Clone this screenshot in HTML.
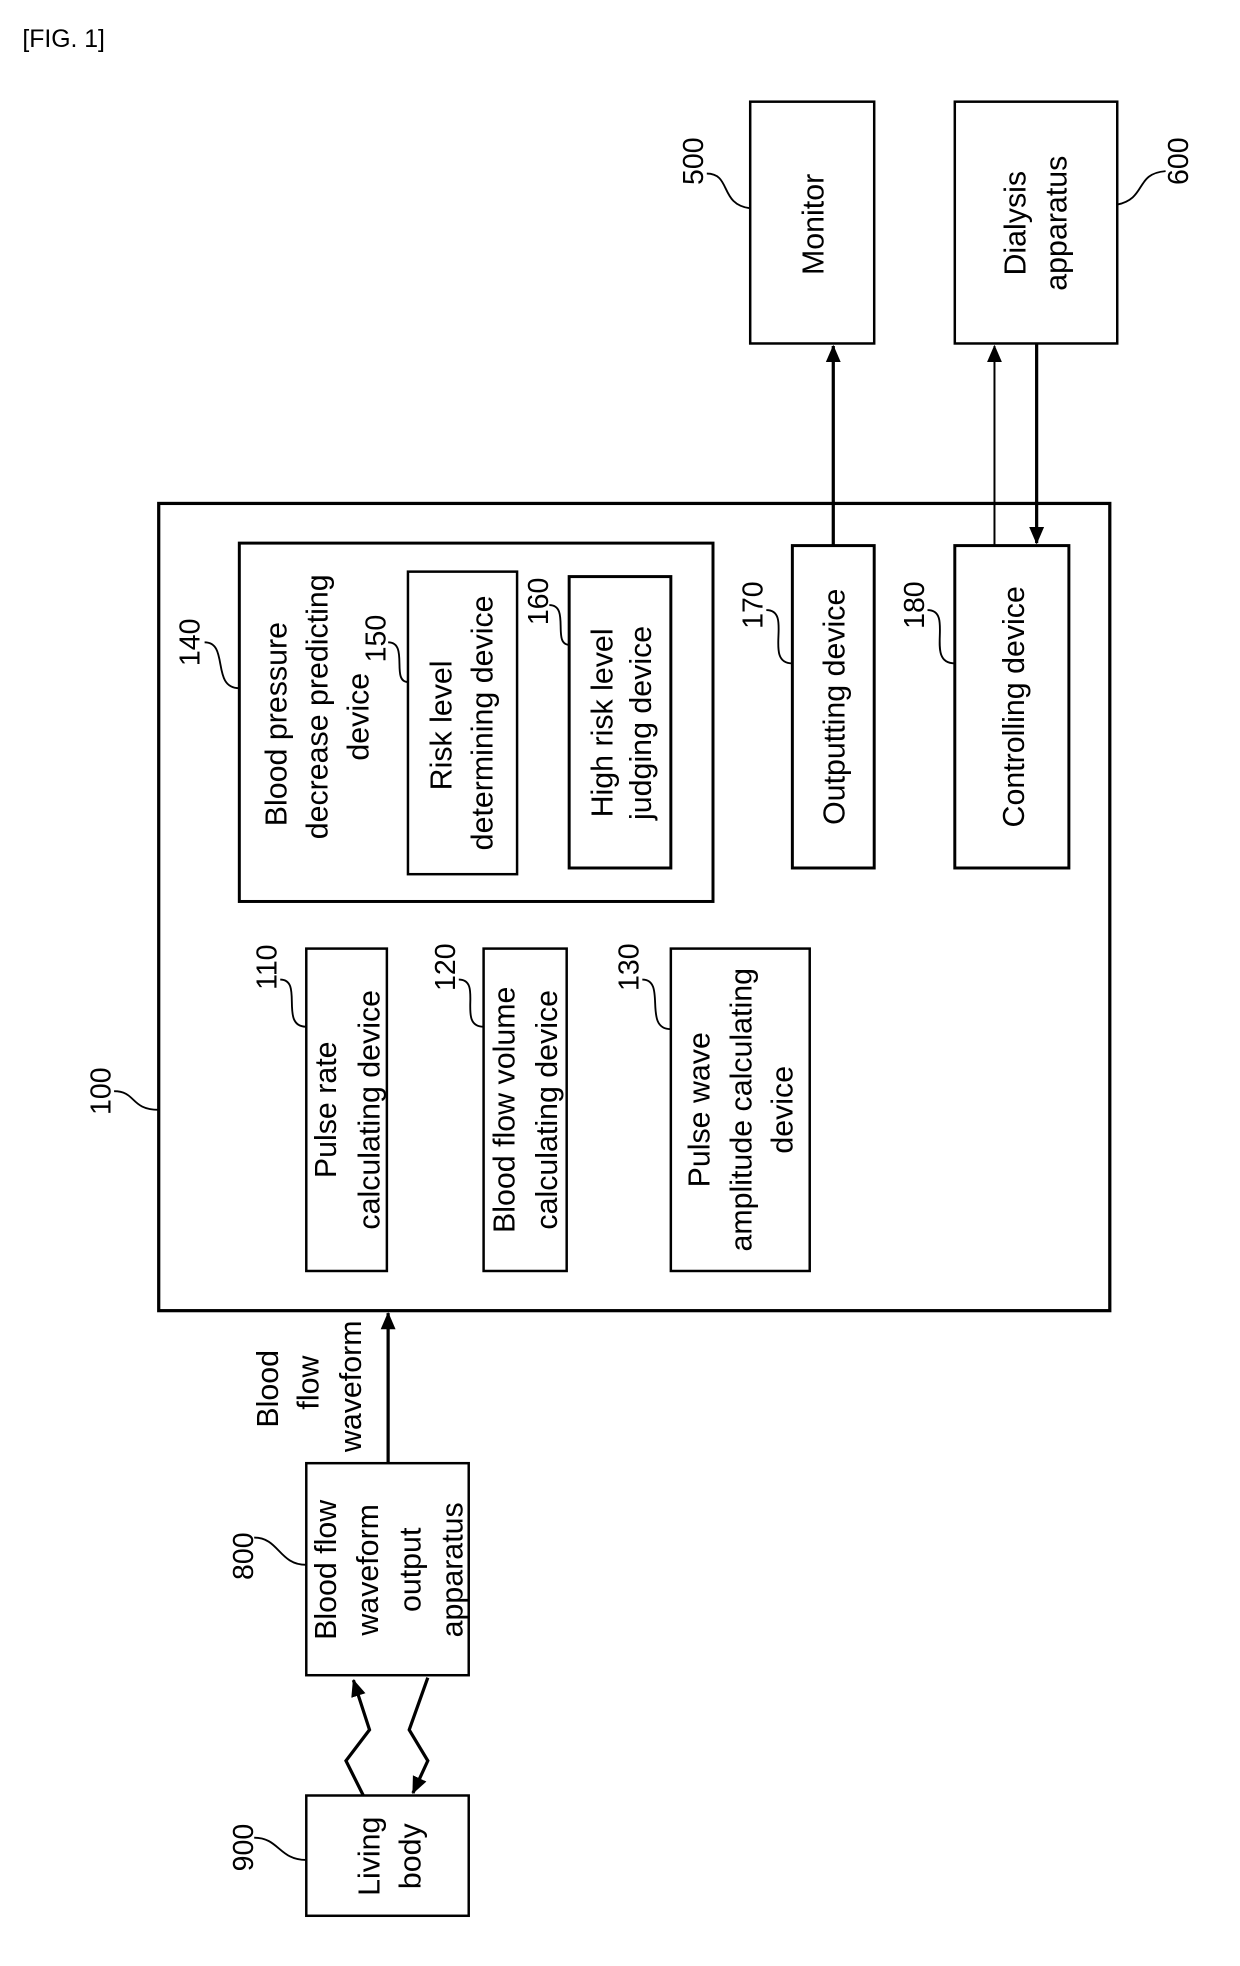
<!DOCTYPE html>
<html><head><meta charset="utf-8"><style>
html,body{margin:0;padding:0;background:#fff;}
svg{display:block;}
text{font-family:"Liberation Sans",Arial,sans-serif;fill:#000;}
</style></head><body>
<svg width="1240" height="1966" viewBox="0 0 1000 1585.5" preserveAspectRatio="none" xmlns="http://www.w3.org/2000/svg">
<defs>
<marker id="ah2" markerWidth="14" markerHeight="14" refX="13" refY="7" orient="auto" markerUnits="userSpaceOnUse" viewBox="0 0 14 14">
<path d="M0,1 L14,7 L0,13 z" fill="#000"/></marker>
</defs>
<text x="18" y="38" font-size="20">[FIG. 1]</text>
<g fill="none" stroke="#000" stroke-width="2">
<rect x="605" y="82" width="100" height="195"/>
<rect x="770" y="82" width="131" height="195"/>
<rect x="128" y="406" width="767" height="651" stroke-width="2.6"/>
<rect x="193" y="438" width="382" height="289" stroke-width="2.4"/>
<rect x="329" y="461" width="88" height="244"/>
<rect x="459" y="465" width="82" height="235" stroke-width="2.4"/>
<rect x="639" y="440" width="66" height="260" stroke-width="2.4"/>
<rect x="770" y="440" width="92" height="260" stroke-width="2.4"/>
<rect x="247" y="765" width="65" height="260"/>
<rect x="390" y="765" width="67" height="260"/>
<rect x="541" y="765" width="112" height="260"/>
<rect x="247" y="1180" width="131" height="171"/>
<rect x="247" y="1448" width="131" height="97"/>
<line x1="672" y1="440" x2="672" y2="279" stroke-width="2.6" marker-end="url(#ah2)"/>
<line x1="802" y1="440" x2="802" y2="279" stroke-width="1.6" marker-end="url(#ah2)"/>
<line x1="836" y1="277" x2="836" y2="438" stroke-width="2.6" marker-end="url(#ah2)"/>
<line x1="313" y1="1180" x2="313" y2="1059" stroke-width="2.6" marker-end="url(#ah2)"/>
<polyline points="293,1448 279,1420 298,1395 285,1355" stroke-width="2.6" marker-end="url(#ah2)"/>
<polyline points="345,1353 330,1395 345,1420 333,1446" stroke-width="2.6" marker-end="url(#ah2)"/>
<g stroke-width="1.5">
<path d="M570,140 C590,140 580,165 605,168"/>
<path d="M901,165 C925,160 915,140 940,138"/>
<path d="M92,880 C110,880 105,895 128,895"/>
<path d="M165,518 C185,518 170,555 193,555"/>
<path d="M313,518 C330,518 315,550 329,550"/>
<path d="M443,488 C460,488 445,520 459,520"/>
<path d="M618,492 C640,492 615,535 639,535"/>
<path d="M748,492 C770,492 745,535 770,535"/>
<path d="M226,790 C245,790 225,828 247,828"/>
<path d="M370,790 C390,790 368,828 390,828"/>
<path d="M518,790 C538,790 518,830 541,830"/>
<path d="M205,1240 C225,1240 225,1262 247,1262"/>
<path d="M205,1482 C225,1482 225,1500 247,1500"/>
</g>
</g>
<g font-size="24.5" text-anchor="middle">
<text transform="translate(664,181) rotate(-90)">Monitor</text>
<text transform="translate(827,180) rotate(-90)">Dialysis</text>
<text transform="translate(860,180) rotate(-90)">apparatus</text>
<text transform="translate(231,584) rotate(-90)">Blood pressure</text>
<text transform="translate(264,570) rotate(-90)">decrease predicting</text>
<text transform="translate(297,578) rotate(-90)">device</text>
<text transform="translate(364,585) rotate(-90)">Risk level</text>
<text transform="translate(397,583) rotate(-90)">determining device</text>
<text transform="translate(494,583) rotate(-90)">High risk level</text>
<text transform="translate(525,583) rotate(-90)">judging device</text>
<text transform="translate(681,570) rotate(-90)">Outputting device</text>
<text transform="translate(826,570) rotate(-90)">Controlling device</text>
<text transform="translate(271,895) rotate(-90)">Pulse rate</text>
<text transform="translate(306,895) rotate(-90)">calculating device</text>
<text transform="translate(415,895) rotate(-90)">Blood flow volume</text>
<text transform="translate(449,895) rotate(-90)">calculating device</text>
<text transform="translate(572,895) rotate(-90)">Pulse wave</text>
<text transform="translate(606,895) rotate(-90)">amplitude calculating</text>
<text transform="translate(639,895) rotate(-90)">device</text>
<text transform="translate(224,1120) rotate(-90)">Blood</text>
<text transform="translate(257,1115) rotate(-90)">flow</text>
<text transform="translate(291,1118) rotate(-90)">waveform</text>
<text transform="translate(271,1266) rotate(-90)">Blood flow</text>
<text transform="translate(305,1266) rotate(-90)">waveform</text>
<text transform="translate(339,1266) rotate(-90)">output</text>
<text transform="translate(373,1266) rotate(-90)">apparatus</text>
<text transform="translate(306,1497) rotate(-90)">Living</text>
<text transform="translate(339,1497) rotate(-90)">body</text>
</g>
<g font-size="23" text-anchor="middle">
<text transform="translate(567,130) rotate(-90)">500</text>
<text transform="translate(958,130) rotate(-90)">600</text>
<text transform="translate(89,880) rotate(-90)">100</text>
<text transform="translate(161,518) rotate(-90)">140</text>
<text transform="translate(311,515) rotate(-90)">150</text>
<text transform="translate(442,485) rotate(-90)">160</text>
<text transform="translate(615,488) rotate(-90)">170</text>
<text transform="translate(745,488) rotate(-90)">180</text>
<text transform="translate(223,780) rotate(-90)">110</text>
<text transform="translate(367,780) rotate(-90)">120</text>
<text transform="translate(515,780) rotate(-90)">130</text>
<text transform="translate(204,1255) rotate(-90)">800</text>
<text transform="translate(204,1490) rotate(-90)">900</text>
</g>
</svg>
</body></html>
